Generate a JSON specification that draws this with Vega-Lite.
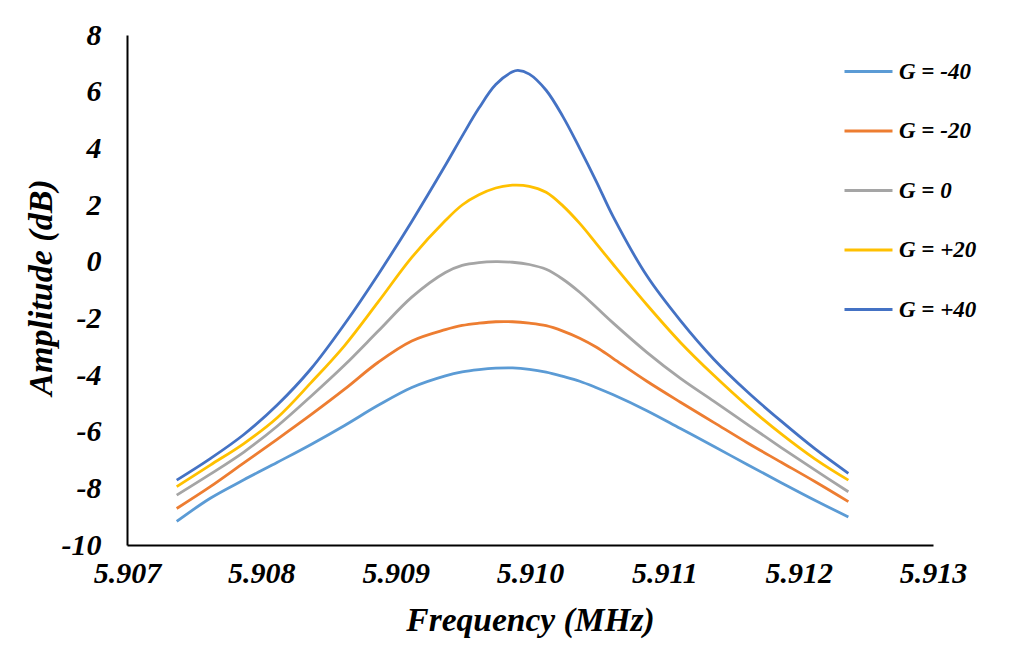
{
  "$schema": "https://vega.github.io/schema/vega-lite/v6.json",
  "width": 806,
  "height": 510,
  "autosize": {"type": "none"},
  "padding": {"left": 127, "top": 35, "right": 97, "bottom": 112},
  "background": "white",
  "config": {
    "view": {"stroke": null},
    "font": "'Liberation Serif', 'Times New Roman', 'DejaVu Serif', serif"
  },
  "data": {
    "values": [
      {"freq": 5.90737, "amp": -9.17, "series": "G = -40"},
      {"freq": 5.90762, "amp": -8.35, "series": "G = -40"},
      {"freq": 5.90787, "amp": -7.70, "series": "G = -40"},
      {"freq": 5.90812, "amp": -7.08, "series": "G = -40"},
      {"freq": 5.90837, "amp": -6.45, "series": "G = -40"},
      {"freq": 5.90862, "amp": -5.78, "series": "G = -40"},
      {"freq": 5.90887, "amp": -5.07, "series": "G = -40"},
      {"freq": 5.90912, "amp": -4.44, "series": "G = -40"},
      {"freq": 5.90937, "amp": -4.03, "series": "G = -40"},
      {"freq": 5.909495, "amp": -3.89, "series": "G = -40"},
      {"freq": 5.90962, "amp": -3.81, "series": "G = -40"},
      {"freq": 5.909745, "amp": -3.76, "series": "G = -40"},
      {"freq": 5.90987, "amp": -3.75, "series": "G = -40"},
      {"freq": 5.909995, "amp": -3.80, "series": "G = -40"},
      {"freq": 5.91012, "amp": -3.90, "series": "G = -40"},
      {"freq": 5.910245, "amp": -4.05, "series": "G = -40"},
      {"freq": 5.91037, "amp": -4.22, "series": "G = -40"},
      {"freq": 5.910495, "amp": -4.45, "series": "G = -40"},
      {"freq": 5.91062, "amp": -4.70, "series": "G = -40"},
      {"freq": 5.91087, "amp": -5.26, "series": "G = -40"},
      {"freq": 5.91112, "amp": -5.89, "series": "G = -40"},
      {"freq": 5.91137, "amp": -6.52, "series": "G = -40"},
      {"freq": 5.91162, "amp": -7.17, "series": "G = -40"},
      {"freq": 5.91187, "amp": -7.80, "series": "G = -40"},
      {"freq": 5.91212, "amp": -8.42, "series": "G = -40"},
      {"freq": 5.91237, "amp": -9.01, "series": "G = -40"},

      {"freq": 5.90737, "amp": -8.71, "series": "G = -20"},
      {"freq": 5.90762, "amp": -7.94, "series": "G = -20"},
      {"freq": 5.90787, "amp": -7.10, "series": "G = -20"},
      {"freq": 5.90812, "amp": -6.26, "series": "G = -20"},
      {"freq": 5.90837, "amp": -5.40, "series": "G = -20"},
      {"freq": 5.90862, "amp": -4.50, "series": "G = -20"},
      {"freq": 5.90887, "amp": -3.55, "series": "G = -20"},
      {"freq": 5.90912, "amp": -2.80, "series": "G = -20"},
      {"freq": 5.90937, "amp": -2.40, "series": "G = -20"},
      {"freq": 5.909495, "amp": -2.25, "series": "G = -20"},
      {"freq": 5.90962, "amp": -2.17, "series": "G = -20"},
      {"freq": 5.909745, "amp": -2.12, "series": "G = -20"},
      {"freq": 5.90987, "amp": -2.12, "series": "G = -20"},
      {"freq": 5.909995, "amp": -2.17, "series": "G = -20"},
      {"freq": 5.91012, "amp": -2.26, "series": "G = -20"},
      {"freq": 5.910245, "amp": -2.45, "series": "G = -20"},
      {"freq": 5.91037, "amp": -2.70, "series": "G = -20"},
      {"freq": 5.910495, "amp": -3.02, "series": "G = -20"},
      {"freq": 5.91062, "amp": -3.42, "series": "G = -20"},
      {"freq": 5.91087, "amp": -4.22, "series": "G = -20"},
      {"freq": 5.91112, "amp": -4.96, "series": "G = -20"},
      {"freq": 5.91137, "amp": -5.68, "series": "G = -20"},
      {"freq": 5.91162, "amp": -6.40, "series": "G = -20"},
      {"freq": 5.91187, "amp": -7.08, "series": "G = -20"},
      {"freq": 5.91212, "amp": -7.76, "series": "G = -20"},
      {"freq": 5.91237, "amp": -8.47, "series": "G = -20"},

      {"freq": 5.90737, "amp": -8.24, "series": "G = 0"},
      {"freq": 5.90762, "amp": -7.50, "series": "G = 0"},
      {"freq": 5.90787, "amp": -6.72, "series": "G = 0"},
      {"freq": 5.90812, "amp": -5.80, "series": "G = 0"},
      {"freq": 5.90837, "amp": -4.75, "series": "G = 0"},
      {"freq": 5.90862, "amp": -3.65, "series": "G = 0"},
      {"freq": 5.90887, "amp": -2.45, "series": "G = 0"},
      {"freq": 5.90912, "amp": -1.25, "series": "G = 0"},
      {"freq": 5.90937, "amp": -0.38, "series": "G = 0"},
      {"freq": 5.909495, "amp": -0.13, "series": "G = 0"},
      {"freq": 5.90962, "amp": -0.03, "series": "G = 0"},
      {"freq": 5.909745, "amp": 0.00, "series": "G = 0"},
      {"freq": 5.90987, "amp": -0.02, "series": "G = 0"},
      {"freq": 5.909995, "amp": -0.10, "series": "G = 0"},
      {"freq": 5.91012, "amp": -0.27, "series": "G = 0"},
      {"freq": 5.910245, "amp": -0.62, "series": "G = 0"},
      {"freq": 5.91037, "amp": -1.08, "series": "G = 0"},
      {"freq": 5.910495, "amp": -1.62, "series": "G = 0"},
      {"freq": 5.91062, "amp": -2.17, "series": "G = 0"},
      {"freq": 5.91087, "amp": -3.20, "series": "G = 0"},
      {"freq": 5.91112, "amp": -4.12, "series": "G = 0"},
      {"freq": 5.91137, "amp": -4.93, "series": "G = 0"},
      {"freq": 5.91162, "amp": -5.75, "series": "G = 0"},
      {"freq": 5.91187, "amp": -6.56, "series": "G = 0"},
      {"freq": 5.91212, "amp": -7.35, "series": "G = 0"},
      {"freq": 5.91237, "amp": -8.12, "series": "G = 0"},

      {"freq": 5.90737, "amp": -7.94, "series": "G = +20"},
      {"freq": 5.90762, "amp": -7.18, "series": "G = +20"},
      {"freq": 5.90787, "amp": -6.42, "series": "G = +20"},
      {"freq": 5.90812, "amp": -5.50, "series": "G = +20"},
      {"freq": 5.90837, "amp": -4.27, "series": "G = +20"},
      {"freq": 5.90862, "amp": -2.96, "series": "G = +20"},
      {"freq": 5.90887, "amp": -1.42, "series": "G = +20"},
      {"freq": 5.90912, "amp": 0.15, "series": "G = +20"},
      {"freq": 5.90937, "amp": 1.45, "series": "G = +20"},
      {"freq": 5.909495, "amp": 2.00, "series": "G = +20"},
      {"freq": 5.90962, "amp": 2.36, "series": "G = +20"},
      {"freq": 5.909745, "amp": 2.60, "series": "G = +20"},
      {"freq": 5.90987, "amp": 2.70, "series": "G = +20"},
      {"freq": 5.909995, "amp": 2.66, "series": "G = +20"},
      {"freq": 5.91012, "amp": 2.45, "series": "G = +20"},
      {"freq": 5.910245, "amp": 1.97, "series": "G = +20"},
      {"freq": 5.91037, "amp": 1.35, "series": "G = +20"},
      {"freq": 5.910495, "amp": 0.63, "series": "G = +20"},
      {"freq": 5.91062, "amp": -0.10, "series": "G = +20"},
      {"freq": 5.91087, "amp": -1.52, "series": "G = +20"},
      {"freq": 5.91112, "amp": -2.85, "series": "G = +20"},
      {"freq": 5.91137, "amp": -4.02, "series": "G = +20"},
      {"freq": 5.91162, "amp": -5.10, "series": "G = +20"},
      {"freq": 5.91187, "amp": -6.08, "series": "G = +20"},
      {"freq": 5.91212, "amp": -6.96, "series": "G = +20"},
      {"freq": 5.91237, "amp": -7.71, "series": "G = +20"},

      {"freq": 5.90737, "amp": -7.71, "series": "G = +40"},
      {"freq": 5.90762, "amp": -6.95, "series": "G = +40"},
      {"freq": 5.90787, "amp": -6.10, "series": "G = +40"},
      {"freq": 5.90812, "amp": -5.05, "series": "G = +40"},
      {"freq": 5.90837, "amp": -3.78, "series": "G = +40"},
      {"freq": 5.90862, "amp": -2.20, "series": "G = +40"},
      {"freq": 5.90887, "amp": -0.45, "series": "G = +40"},
      {"freq": 5.90912, "amp": 1.42, "series": "G = +40"},
      {"freq": 5.90937, "amp": 3.40, "series": "G = +40"},
      {"freq": 5.909495, "amp": 4.43, "series": "G = +40"},
      {"freq": 5.90962, "amp": 5.42, "series": "G = +40"},
      {"freq": 5.909745, "amp": 6.25, "series": "G = +40"},
      {"freq": 5.90987, "amp": 6.70, "series": "G = +40"},
      {"freq": 5.90991, "amp": 6.75, "series": "G = +40"},
      {"freq": 5.909995, "amp": 6.62, "series": "G = +40"},
      {"freq": 5.91012, "amp": 6.05, "series": "G = +40"},
      {"freq": 5.910245, "amp": 5.12, "series": "G = +40"},
      {"freq": 5.91037, "amp": 4.00, "series": "G = +40"},
      {"freq": 5.910495, "amp": 2.82, "series": "G = +40"},
      {"freq": 5.91062, "amp": 1.58, "series": "G = +40"},
      {"freq": 5.91087, "amp": -0.50, "series": "G = +40"},
      {"freq": 5.91112, "amp": -2.08, "series": "G = +40"},
      {"freq": 5.91137, "amp": -3.45, "series": "G = +40"},
      {"freq": 5.91162, "amp": -4.60, "series": "G = +40"},
      {"freq": 5.91187, "amp": -5.63, "series": "G = +40"},
      {"freq": 5.91212, "amp": -6.60, "series": "G = +40"},
      {"freq": 5.91237, "amp": -7.47, "series": "G = +40"}
    ]
  },
  "mark": {"type": "line", "strokeWidth": 2.8, "interpolate": "catmull-rom"},
  "encoding": {
    "x": {
      "field": "freq",
      "type": "quantitative",
      "scale": {"domain": [5.907, 5.913], "nice": false, "zero": false},
      "axis": {
        "title": "Frequency (MHz)",
        "values": [5.907, 5.908, 5.909, 5.91, 5.911, 5.912, 5.913],
        "format": ".3f",
        "grid": false,
        "ticks": false,
        "domainColor": "black",
        "domainWidth": 2,
        "labelFont": "'Liberation Serif', 'Times New Roman', 'DejaVu Serif', serif",
        "labelFontSize": 30,
        "labelFontStyle": "italic",
        "labelFontWeight": "bold",
        "labelColor": "black",
        "labelPadding": 13,
        "labelFlush": false,
        "labelOverlap": false,
        "titleFont": "'Liberation Serif', 'Times New Roman', 'DejaVu Serif', serif",
        "titleFontSize": 33.5,
        "titleFontStyle": "italic",
        "titleFontWeight": "bold",
        "titleColor": "black",
        "titleBaseline": "alphabetic",
        "titleY": 85
      }
    },
    "y": {
      "field": "amp",
      "type": "quantitative",
      "scale": {"domain": [-10, 8], "nice": false, "zero": false},
      "axis": {
        "title": "Amplitude (dB)",
        "values": [-10, -8, -6, -4, -2, 0, 2, 4, 6, 8],
        "labelExpr": "'' + datum.value",
        "grid": false,
        "ticks": false,
        "domainColor": "black",
        "domainWidth": 2,
        "labelFont": "'Liberation Serif', 'Times New Roman', 'DejaVu Serif', serif",
        "labelFontSize": 30,
        "labelFontStyle": "italic",
        "labelFontWeight": "bold",
        "labelColor": "black",
        "labelPadding": 26,
        "labelFlush": false,
        "labelOverlap": false,
        "titleFont": "'Liberation Serif', 'Times New Roman', 'DejaVu Serif', serif",
        "titleFontSize": 34,
        "titleFontStyle": "italic",
        "titleFontWeight": "bold",
        "titleColor": "black",
        "titleBaseline": "middle",
        "titleAlign": "center",
        "titleX": -86,
        "titleY": 252
      }
    },
    "color": {
      "field": "series",
      "type": "nominal",
      "scale": {
        "domain": ["G = -40", "G = -20", "G = 0", "G = +20", "G = +40"],
        "range": ["#5B9BD5", "#ED7D31", "#A5A5A5", "#FFC000", "#4472C4"]
      },
      "legend": {
        "title": null,
        "orient": "none",
        "legendX": 716,
        "legendY": 11,
        "symbolType": "stroke",
        "symbolSize": 2304,
        "symbolStrokeWidth": 3,
        "labelFont": "'Liberation Serif', 'Times New Roman', 'DejaVu Serif', serif",
        "labelFontSize": 23,
        "labelFontStyle": "italic",
        "labelFontWeight": "bold",
        "labelColor": "black",
        "labelOffset": 5,
        "rowPadding": 21.5,
        "labelLimit": 200
      }
    }
  }
}
